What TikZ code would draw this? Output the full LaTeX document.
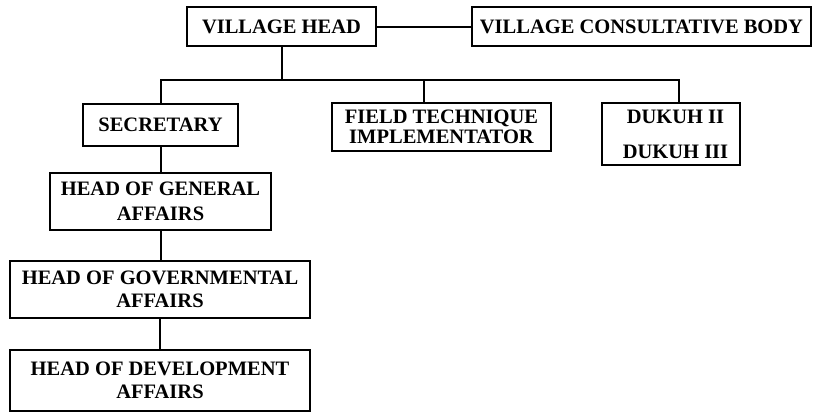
\documentclass[tikz,border=0pt]{standalone}
\usepackage{fontspec}
\setmainfont{Liberation Serif}
\begin{document}
\begin{tikzpicture}[x=1pt,y=-1pt,
  box/.style={draw, line width=2pt, inner sep=0pt, align=center},
  txt/.style={font=\bfseries\fontsize{20.5}{#1}\selectfont},
  conn/.style={line width=2pt}]
\useasboundingbox (0,0) rectangle (813,413);
\node[box, txt=24, minimum width=189pt, minimum height=39pt] (vh) at (281.5,26.5) {VILLAGE HEAD};
\node[box, txt=24, minimum width=339pt, minimum height=39pt] (vcb) at (641.5,26.5) {VILLAGE CONSULTATIVE BODY};
\node[box, txt=24, minimum width=155pt, minimum height=42pt] (sec) at (160.5,125) {SECRETARY};
\node[box, txt=20, minimum width=219pt, minimum height=48pt] (fti) at (441.5,127) {FIELD TECHNIQUE\\IMPLEMENTATOR};
\node[box, txt=35, minimum width=138pt, minimum height=62pt] (duk) at (671,134) {\hspace*{9pt}DUKUH II\\\hspace*{9pt}DUKUH III};
\node[box, txt=24.5, minimum width=221pt, minimum height=57pt] (hga) at (160.5,201.5) {HEAD OF GENERAL\\AFFAIRS};
\node[box, txt=22.5, minimum width=300pt, minimum height=57pt] (hgov) at (160,289.5) {HEAD OF GOVERNMENTAL\\AFFAIRS};
\node[box, txt=23.5, minimum width=300pt, minimum height=61pt] (hdev) at (160,380.5) {HEAD OF DEVELOPMENT\\AFFAIRS};
\coordinate (bus) at (281.5,80);
\coordinate (busL) at (160.5,80);
\coordinate (busR) at (679,80);
\coordinate (busM) at (424,80);
\draw[conn] (vh) -- (vcb);
\draw[conn] (vh.south) -- (bus);
\draw[conn] (sec.north) -- (busL) -- (busR) -- (busR |- duk.north);
\draw[conn] (busM) -- (busM |- fti.north);
\draw[conn] (sec.south) -- (sec.south |- hga.north);
\draw[conn] (hga.south) -- (hga.south |- hgov.north);
\draw[conn] (hgov.south) -- (hgov.south |- hdev.north);
\end{tikzpicture}
\end{document}
